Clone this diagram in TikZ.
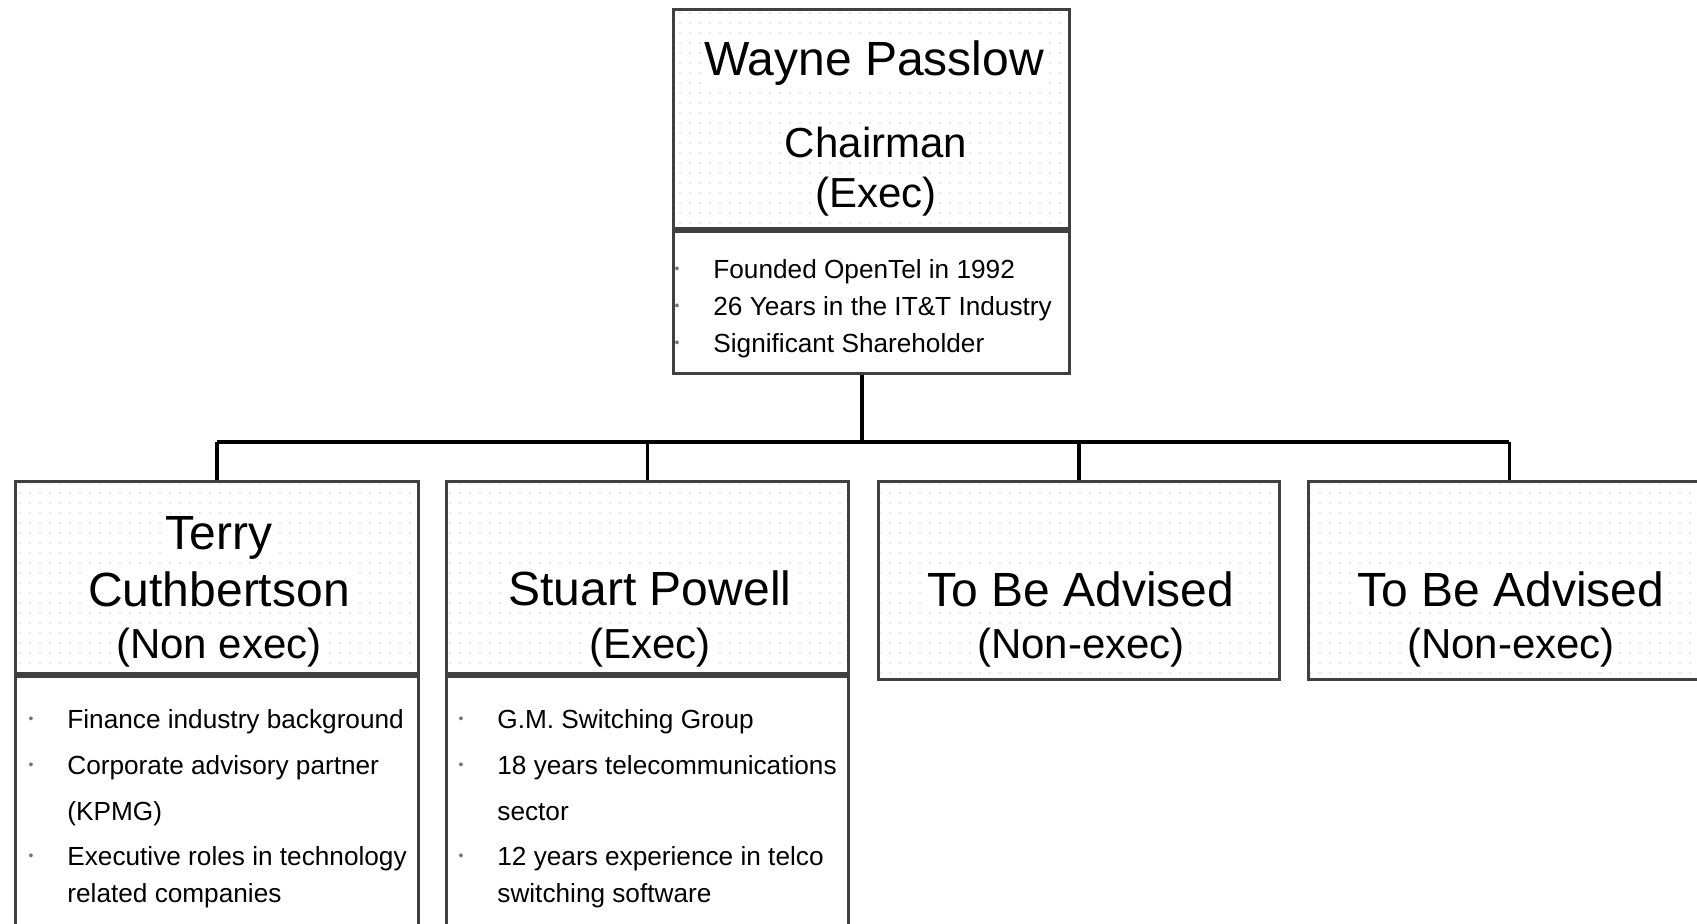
\documentclass[tikz,border=0pt]{standalone}
\usepackage{fontspec}
\setmainfont{Liberation Sans}
\usetikzlibrary{positioning,patterns.meta}

\newcommand{\bul}{\llap{\raisebox{2.4pt}{\color{black!55}\fontsize{7}{7}\selectfont\textbullet}\hspace{17pt}}}

\tikzset{
  headbox/.style={draw=black!75, line width=1.4pt, inner sep=0pt, anchor=north west,
    pattern={Dots[distance=5pt,radius=0.35pt]}, pattern color=black!40},
  bodybox/.style={draw=black!75, line width=1.4pt, fill=white, inner sep=0pt, anchor=north west},
  nametext/.style={font=\fontsize{24}{28}\selectfont, anchor=base, fill=white, inner sep=1pt},
  roletext/.style={font=\fontsize{21}{25}\selectfont, anchor=base, fill=white, inner sep=1pt},
  itemtext/.style={font=\fontsize{13.1}{16}\selectfont, anchor=base west, inner sep=0pt},
  link/.style={line width=1.6pt, black}
}

\begin{document}
\begin{tikzpicture}[x=0.5pt,y=-0.5pt]
  \useasboundingbox (0,0) rectangle (1697,923);
  \clip (0,0) rectangle (1697,923);

  % chairman
  \node[headbox, minimum width=198pt, minimum height=109.5pt] (wp) at (672,8) {};
  \node[bodybox, minimum width=198pt, minimum height=71pt] (wpbody) at (wp.south west) {};
  \node[nametext] (wpname) at (874,75) {Wayne Passlow};
  \node[roletext] (wprole) at (876,157) {Chairman};
  \node[roletext] (wpexec) at (876,207) {(Exec)};
  \node[itemtext] (wp1) at (713,278) {\bul Founded OpenTel in 1992};
  \node[itemtext] (wp2) at (713,315) {\bul 26 Years in the IT\&T Industry};
  \node[itemtext] (wp3) at (713,352) {\bul Significant Shareholder};

  % directors
  \node[headbox, minimum width=201.5pt, minimum height=96pt] (tc) at (14,480) {};
  \node[bodybox, minimum width=201.5pt, minimum height=140pt] (tcbody) at (tc.south west) {};
  \node[headbox, minimum width=201pt, minimum height=96pt] (sp) at (445,480) {};
  \node[bodybox, minimum width=201pt, minimum height=140pt] (spbody) at (sp.south west) {};
  \node[headbox, minimum width=200.5pt, minimum height=99pt] (tba1) at (877,480) {};
  \node[headbox, minimum width=201pt, minimum height=99pt] (tba2) at (1307,480) {};

  \node[nametext] (tcname) at (219,549) {Terry};
  \node[nametext] (tcname2) at (219,606) {Cuthbertson};
  \node[roletext] (tcrole) at (219,658) {(Non exec)};
  \node[itemtext] (tc1) at (67,728) {\bul Finance industry background};
  \node[itemtext] (tc2) at (67,774) {\bul Corporate advisory partner};
  \node[itemtext] (tc2b) at (67,820) {(KPMG)};
  \node[itemtext] (tc3) at (67,865) {\bul Executive roles in technology};
  \node[itemtext] (tc3b) at (67,902) {related companies};

  \node[nametext] (spname) at (650,605) {Stuart Powell};
  \node[roletext] (sprole) at (650,658) {(Exec)};
  \node[itemtext] (sp1) at (497,728) {\bul G.M. Switching Group};
  \node[itemtext] (sp2) at (497,774) {\bul 18 years telecommunications};
  \node[itemtext] (sp2b) at (497,820) {sector};
  \node[itemtext] (sp3) at (497,865) {\bul 12 years experience in telco};
  \node[itemtext] (sp3b) at (497,902) {switching software};

  \node[nametext] (tba1name) at (1081,606) {To Be Advised};
  \node[roletext] (tba1role) at (1081,658) {(Non-exec)};
  \node[nametext] (tba2name) at (1511,606) {To Be Advised};
  \node[roletext] (tba2role) at (1511,658) {(Non-exec)};

  % tree lines
  \coordinate (hub) at (862,442);
  \draw[link] (wpbody.south -| hub) -- (hub);
  \draw[link] (tc.north |- hub) -- (tba2.north |- hub);
  \foreach \n in {tc,sp,tba1,tba2}
    \draw[link] (\n.north |- hub) -- (\n.north);
\end{tikzpicture}
\end{document}
